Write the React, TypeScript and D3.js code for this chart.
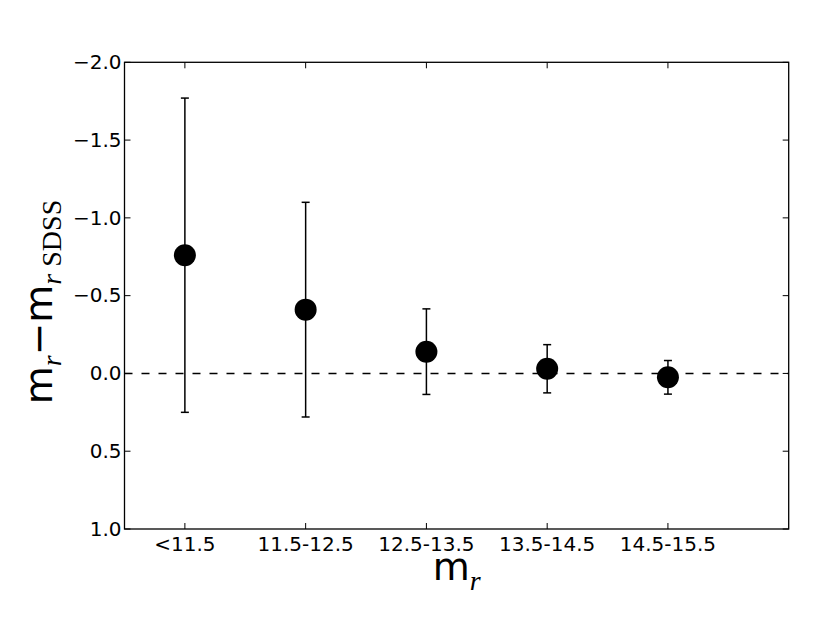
import * as d3 from 'd3';
import React from 'react';

// magnitude bins and offsets m_r - m_r,SDSS (mean and error)
const categories = ['<11.5', '11.5-12.5', '12.5-13.5', '13.5-14.5', '14.5-15.5'];
const offsets = [-0.76, -0.41, -0.14, -0.03, 0.025];
const errors = [1.01, 0.69, 0.275, 0.155, 0.108];
const yTicks = [-2.0, -1.5, -1.0, -0.5, 0.0, 0.5, 1.0];

const width = 830;
const height = 623;
const margin = { top: 62.3, right: 41.3, bottom: 94, left: 124.5 };

export default function App() {
    const x = d3.scaleLinear()
        .domain([0.5, 6])
        .range([margin.left, width - margin.right]);
    const y = d3.scaleLinear()
        .domain([-2, 1])
        .range([margin.top, height - margin.bottom]);

    const fmt = d3.format('.1f');
    const tickLen = 6;
    const font = 'DejaVu Sans';
    const serif = 'Liberation Serif';
    const x0 = x.range()[0], x1 = x.range()[1];
    const y0 = y.range()[0], y1 = y.range()[1];
    const cx = (x0 + x1) / 2;

    return (
        <svg width={width} height={height}
             style={{ position: 'absolute', left: 0, top: 0, background: 'white' }}>
            {/* zero reference line */}
            <line x1={x0} x2={x1} y1={y(0)} y2={y(0)}
                  stroke="black" strokeWidth={1.6} strokeDasharray="8,9" />

            {/* error bars */}
            {categories.map((c, i) => {
                const px = x(i + 1);
                const lo = y(offsets[i] + errors[i]);
                const hi = y(offsets[i] - errors[i]);
                return (
                    <g key={c} stroke="black" strokeWidth={1.5}>
                        <line x1={px} x2={px} y1={hi} y2={lo} />
                        <line x1={px - 4} x2={px + 4} y1={hi} y2={hi} />
                        <line x1={px - 4} x2={px + 4} y1={lo} y2={lo} />
                    </g>
                );
            })}

            {/* points */}
            {categories.map((c, i) => (
                <circle key={c} cx={x(i + 1)} cy={y(offsets[i])} r={11} fill="black" />
            ))}

            {/* frame */}
            <rect x={x0} y={y0} width={x1 - x0} height={y1 - y0}
                  fill="none" stroke="black" strokeWidth={1.3} />

            {/* y ticks, both sides, inward */}
            {yTicks.map(t => (
                <g key={t} stroke="black" strokeWidth={1}>
                    <line x1={x0} x2={x0 + tickLen} y1={y(t)} y2={y(t)} />
                    <line x1={x1} x2={x1 - tickLen} y1={y(t)} y2={y(t)} />
                </g>
            ))}
            {yTicks.map(t => (
                <text key={t} x={x0 - 3} y={y(t)} dy="0.34em" textAnchor="end"
                      fontFamily={font} fontSize={20} fill="black">
                    {fmt(t)}
                </text>
            ))}

            {/* x ticks, top and bottom, inward */}
            {categories.map((c, i) => (
                <g key={c} stroke="black" strokeWidth={1}>
                    <line x1={x(i + 1)} x2={x(i + 1)} y1={y1} y2={y1 - tickLen} />
                    <line x1={x(i + 1)} x2={x(i + 1)} y1={y0} y2={y0 + tickLen} />
                </g>
            ))}
            {categories.map((c, i) => (
                <text key={c} x={x(i + 1)} y={y1 + 21.5} textAnchor="middle"
                      fontFamily={font} fontSize={20} fill="black">
                    {c}
                </text>
            ))}

            {/* x label */}
            <text x={cx} y={580} textAnchor="middle" fill="black">
                <tspan fontFamily={font} fontSize={38}>m</tspan>
                <tspan fontFamily={serif} fontStyle="italic" fontSize={28} dy={10}>r</tspan>
            </text>

            {/* y label */}
            <text transform={`translate(52,302) rotate(-90)`} textAnchor="middle" fill="black">
                <tspan fontFamily={font} fontSize={39}>m</tspan>
                <tspan fontFamily={serif} fontStyle="italic" fontSize={28} dy={9}>r</tspan>
                <tspan fontFamily={font} fontSize={39} dy={-9}>{'\u2212'}m</tspan>
                <tspan fontFamily={serif} fontStyle="italic" fontSize={28} dy={9}>r</tspan>
                <tspan fontFamily={serif} fontSize={28}>{'\u00a0SDSS'}</tspan>
            </text>
        </svg>
    );
}
